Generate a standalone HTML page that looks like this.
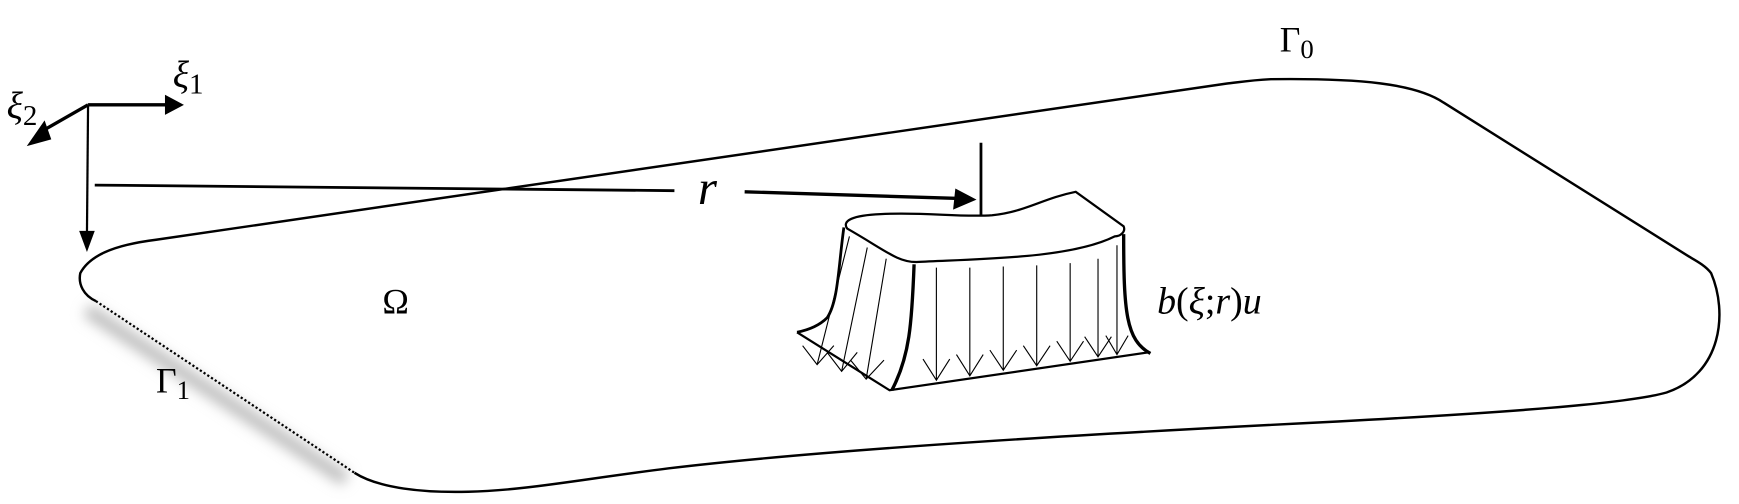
<!DOCTYPE html>
<html><head><meta charset="utf-8"><style>
html,body{margin:0;padding:0;background:#fff;}
svg{display:block;}
text{font-family:"Liberation Serif","DejaVu Serif",serif;fill:#000;}
</style></head><body>
<svg width="1739" height="504" viewBox="0 0 1560 452" preserveAspectRatio="none" xmlns="http://www.w3.org/2000/svg">
<defs>
<filter id="blur" x="-50%" y="-50%" width="200%" height="200%"><feGaussianBlur stdDeviation="6"/></filter>
</defs>
<rect width="1560" height="452" fill="#fff"/>
<path d="M78,278 L310,430" stroke="#bbb" stroke-width="12" fill="none" filter="url(#blur)"/>
<path d="M318,424 C340,438 380,442 420,441 C470,440 520,430 600,420 C750,402 1000,388 1200,378 C1350,370 1460,362 1495,352 C1545,335 1550,280 1535,245 C1530,238 1520,233 1515,230 L1295,92 C1270,75 1220,70 1140,71 C1120,72 1110,74 1100,75 L140,215 C100,220 80,230 72,245 C70,255 75,265 86,270" stroke="#000" stroke-width="2.2" fill="none"/>
<path d="M86,270 L318,424" stroke="#000" stroke-width="2" stroke-dasharray="2,2" fill="none"/>
<g stroke="#000" fill="#000">
<line x1="79" y1="94" x2="150" y2="94" stroke-width="3"/>
<polygon points="148,85 165,94 148,103" stroke="none"/>
<line x1="79" y1="94" x2="37" y2="118" stroke-width="3"/>
<polygon points="40,108 24,131 46,125" stroke="none"/>
<line x1="79" y1="94" x2="78" y2="210" stroke-width="2"/>
<polygon points="71,207 78,226 85,207" stroke="none"/>
</g>
<text x="155" y="78" font-size="34" font-style="italic">ξ<tspan font-size="26" font-style="normal" dy="6">1</tspan></text>
<text x="6" y="106" font-size="34" font-style="italic">ξ<tspan font-size="26" font-style="normal" dy="6">2</tspan></text>
<line x1="85" y1="166" x2="605" y2="171" stroke="#000" stroke-width="2.5"/>
<text x="626" y="183" font-size="44" font-style="italic">r</text>
<line x1="668" y1="172" x2="860" y2="178" stroke="#000" stroke-width="3"/>
<polygon points="857,169 876,179 855,188" fill="#000"/>
<line x1="880" y1="128" x2="880" y2="206" stroke="#000" stroke-width="2.5"/>
<g fill="none" stroke="#000">
<path d="M760,205 C755,198 765,193 790,192 C830,190 860,195 890,193 C920,190 935,178 965,172 L1008,203 C1010,208 1005,212 1000,212 C960,232 880,232 822,235 C805,235 795,225 760,205 Z" stroke-width="2" fill="#fff"/>
<path d="M757,204 C752,240 752,270 742,285 C735,292 725,296 715,298" stroke-width="2.5"/>
<path d="M715,298 L798,350 L1030,316" stroke-width="2"/>
<path d="M820,237 C818,290 816,320 800,350" stroke-width="3"/>
<path d="M1008,210 C1008,280 1010,305 1032,317" stroke-width="3"/>
</g>
<g fill="none" stroke="#000" stroke-width="1">
<path d="M762,212 L733,327 M720,310 L733,327 L748,310"/>
<path d="M778,222 L755,333 M742,316 L755,333 L769,316"/>
<path d="M795,232 L777,340 M763,323 L777,340 L793,323"/>
<path d="M840,240 L840,341 M828,322 L840,341 L852,322"/>
<path d="M870,240 L870,337 M858,318 L870,337 L882,318"/>
<path d="M900,239 L900,332 M888,314 L900,332 L912,314"/>
<path d="M930,238 L930,328 M918,310 L930,328 L942,310"/>
<path d="M960,236 L960,324 M948,306 L960,324 L972,306"/>
<path d="M985,232 L985,320 M973,302 L985,320 L997,302"/>
<path d="M1002,220 L1002,318 M992,301 L1002,318 L1012,301"/>
</g>
<text x="1038" y="281" font-size="34"><tspan font-style="italic">b</tspan>(<tspan font-style="italic">ξ</tspan>;<tspan font-style="italic">r</tspan>)<tspan font-style="italic">u</tspan></text>
<text x="343" y="281" font-size="32">Ω</text>
<text x="1148" y="46" font-size="32">Γ<tspan font-size="24" dy="6">0</tspan></text>
<text x="140" y="352" font-size="32">Γ<tspan font-size="24" dy="6">1</tspan></text>
</svg>
</body></html>
